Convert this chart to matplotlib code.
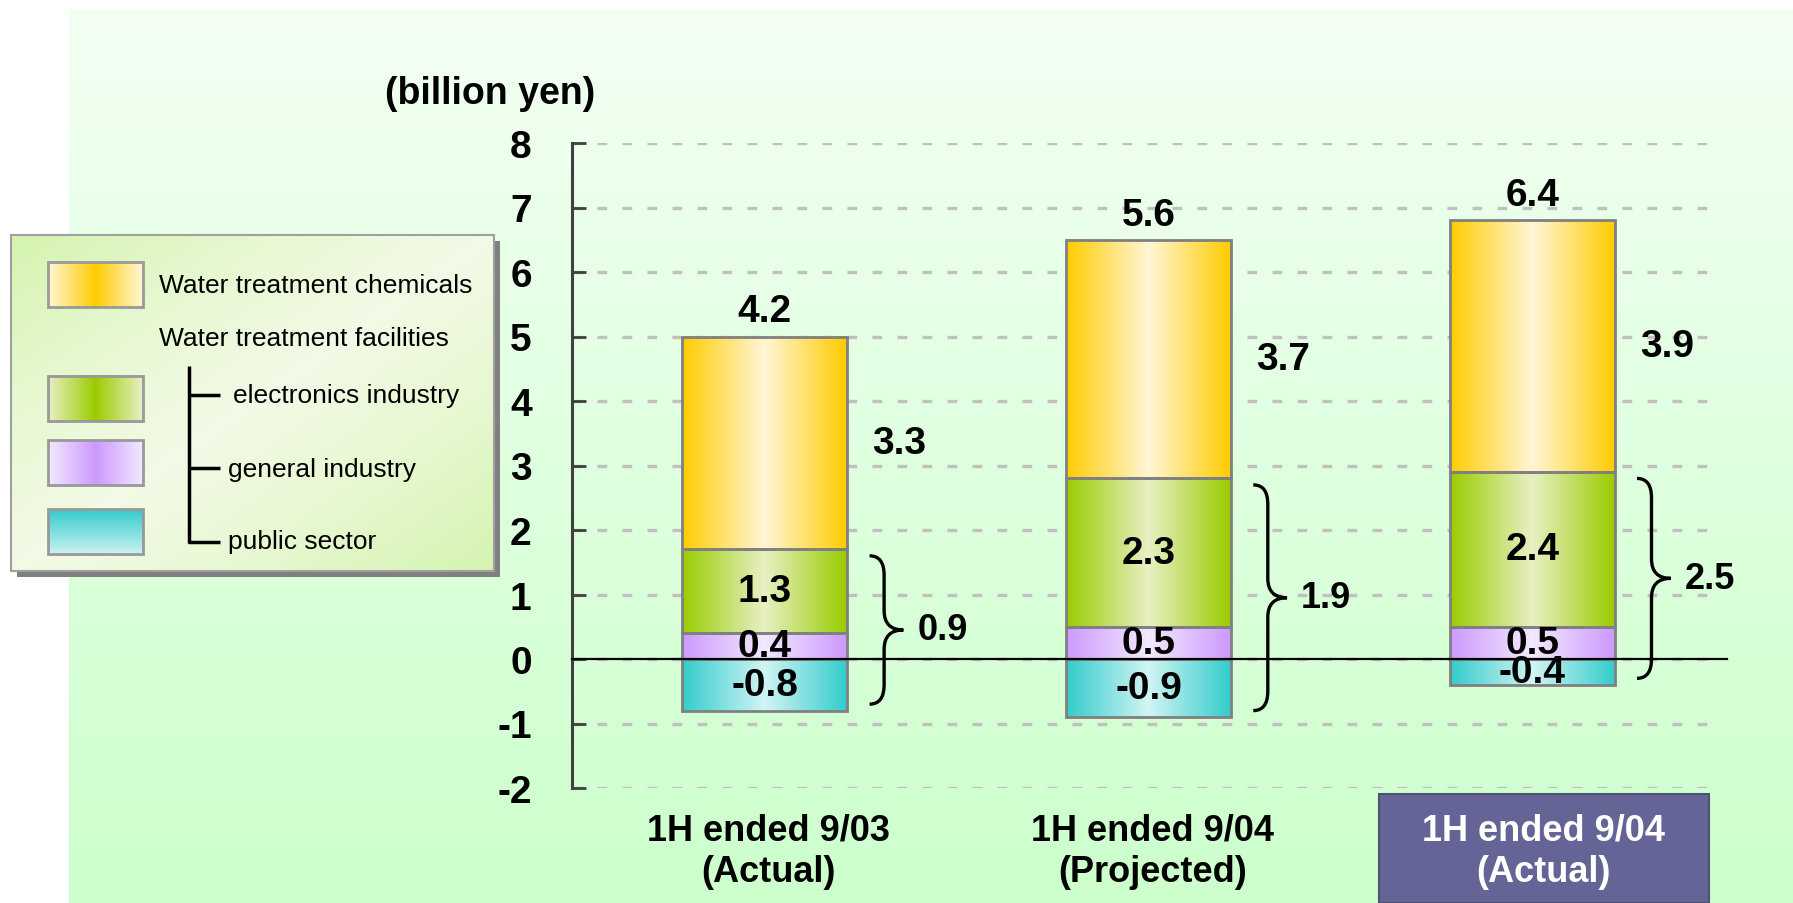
import numpy as np
import matplotlib.pyplot as plt
import matplotlib.transforms as mtransforms
from matplotlib.colors import LinearSegmentedColormap
from matplotlib.patches import Rectangle, PathPatch
from matplotlib.path import Path

plt.rcParams['font.family'] = ['Liberation Sans', 'DejaVu Sans']
plt.rcParams['axes.unicode_minus'] = False
plt.rcParams['lines.scale_dashes'] = False

#%% dados (bilhões de ienes)
periodos = ['1H ended 9/03\n(Actual)', '1H ended 9/04\n(Projected)', '1H ended 9/04\n(Actual)']
public_sector = [-0.8, -0.9, -0.4]
general_industry = [0.4, 0.5, 0.5]
electronics_industry = [1.3, 2.3, 2.4]
chemicals = [3.3, 3.7, 3.9]
totais = [4.2, 5.6, 6.4]
totais_facilities = [0.9, 1.9, 2.5]
yticks = list(range(-2, 9))

legenda_itens = ['Water treatment chemicals', 'Water treatment facilities',
                 'electronics industry', 'general industry', 'public sector']

#%% cores
cor_laranja = ('#ffcc00', '#fff6d6')
cor_verde = ('#99cc00', '#e8f0c4')
cor_roxo = ('#cc99ff', '#f3e8ff')
cor_teal = ('#33cccc', '#d2f4f4')

W, H = 1793, 904
fig = plt.figure(figsize=(W / 100, H / 100), dpi=100)

# eixo de fundo em pixels
bg = fig.add_axes([0, 0, 1, 1])
bg.set_xlim(0, W)
bg.set_ylim(H, 0)
bg.axis('off')

grad_v = np.linspace(0, 1, 256).reshape(-1, 1)
grad_h = np.linspace(0, 1, 256).reshape(1, -1)

bg_cmap = LinearSegmentedColormap.from_list('bg', ['#f3fff3', '#ccffcc'])
bg.imshow(grad_v, cmap=bg_cmap, extent=[69, W, H, 10], aspect='auto', zorder=0)

# caixa da legenda
bg.add_patch(Rectangle((17, 242), 483, 336, facecolor='#808080', edgecolor='none', zorder=1))
xx, yy = np.meshgrid(np.linspace(0, 1, 200), np.linspace(0, 1, 200))
diag = np.abs((xx + yy) / 2 - 0.5) * 2
leg_cmap = LinearSegmentedColormap.from_list('leg', ['#eef8dc', '#dcf5bc', '#c2f08e'])
bg.imshow(diag, cmap=leg_cmap, extent=[11, 494, 572, 236], aspect='auto', zorder=2)
bg.add_patch(Rectangle((11, 236), 483, 336, fill=False, edgecolor=(1, 1, 1, 0.3),
                       lw=0, hatch='/' * 18, zorder=3))
bg.add_patch(Rectangle((11, 236), 483, 336, fill=False, edgecolor='#a0a0a0', lw=1.5, zorder=4))


def cmap_borda(borda, centro):
    return LinearSegmentedColormap.from_list('c', [borda, centro, borda])


def cmap_centro(borda, centro):
    return LinearSegmentedColormap.from_list('c', [centro, borda, centro])


swatches = [(263, cmap_centro(*cor_laranja), grad_h),
            (377, cmap_centro(*cor_verde), grad_h),
            (441, cmap_centro(*cor_roxo), grad_h),
            (510, LinearSegmentedColormap.from_list('t', ['#33cccc', '#ccf2f2']), grad_v)]
for y0, cm, g in swatches:
    bg.imshow(g, cmap=cm, extent=[48, 143, y0 + 45, y0], aspect='auto', zorder=5)
    bg.add_patch(Rectangle((48, y0), 95, 45, fill=False, edgecolor='#999999', lw=2, zorder=6))

pos_texto = [(159, 286), (159, 339), (233, 396), (228, 470), (228, 542)]
for (tx, ty), txt in zip(pos_texto, legenda_itens):
    bg.text(tx, ty, txt, fontsize=19, ha='left', va='center', zorder=7)

# arvore da legenda
bg.plot([189, 189], [367, 544], color='black', lw=2.5, zorder=7, solid_capstyle='butt')
for yb in [396, 469, 543]:
    bg.plot([188, 220], [yb, yb], color='black', lw=2.5, zorder=7, solid_capstyle='butt')

fig.text(385 / W, 1 - 94 / H, '(billion yen)', fontsize=27, fontweight='bold',
         ha='left', va='center')

#%% grafico principal
ax = fig.add_axes([572 / W, 1 - 789 / H, (1721 - 572) / W, (789 - 144) / H], zorder=2)
ax.set_facecolor('none')
x = np.arange(len(periodos))
bw = 0.43

gen = np.array(general_industry)
ele = np.array(electronics_industry)
chem = np.array(chemicals)
pub = np.array(public_sector)

segmentos = [(pub, 0, cor_teal), (gen, 0, cor_roxo), (ele, gen, cor_verde), (chem, gen + ele, cor_laranja)]
for vals, base, cores in segmentos:
    bars = ax.bar(x, vals, bw, bottom=base, facecolor='none', edgecolor='#808080', lw=2, zorder=3)
    cm = cmap_borda(*cores)
    for b in bars:
        x0, y0 = b.get_x(), b.get_y()
        ax.imshow(grad_h, cmap=cm, extent=[x0, x0 + b.get_width(), y0, y0 + b.get_height()],
                  aspect='auto', zorder=2, interpolation='bilinear')

ax.axhline(0, color='black', lw=1.6, xmax=1.005, clip_on=False, zorder=4)

negrito = dict(fontweight='bold', zorder=6)
for i in x:
    topo = gen[i] + ele[i] + chem[i]
    ax.annotate(f'{totais[i]}', (i, topo), xytext=(0, 18), textcoords='offset points',
                ha='center', va='center', fontsize=28, **negrito)
    ax.text(i + bw / 2 + 0.065, gen[i] + ele[i] + chem[i] / 2, f'{chem[i]}',
            ha='left', va='center', fontsize=28, **negrito)
    ax.text(i, gen[i] + ele[i] / 2, f'{ele[i]}', ha='center', va='center', fontsize=28, **negrito)
    ax.text(i, gen[i] / 2, f'{gen[i]}', ha='center', va='center', fontsize=28, **negrito)
    ax.text(i, pub[i] / 2, f'{pub[i]}', ha='center', va='center', fontsize=28, **negrito)

    # chave "}" dos equipamentos
    bx0 = i + bw / 2 + 0.058
    bx1 = bx0 + 0.088
    bxm = bx0 + 0.43 * (bx1 - bx0)
    by0 = pub[i] + 0.1
    by1 = gen[i] + ele[i] - 0.1
    bym = (by0 + by1) / 2
    r = 0.3
    verts = [(bx0, by1), (bxm, by1), (bxm, by1 - r),
             (bxm, bym + r), (bxm, bym), (bx1, bym),
             (bxm, bym), (bxm, bym - r),
             (bxm, by0 + r), (bxm, by0), (bx0, by0)]
    codes = [Path.MOVETO, Path.CURVE3, Path.CURVE3, Path.LINETO, Path.CURVE3, Path.CURVE3,
             Path.CURVE3, Path.CURVE3, Path.LINETO, Path.CURVE3, Path.CURVE3]
    ax.add_patch(PathPatch(Path(verts, codes), fill=False, edgecolor='black', lw=2.4, zorder=5))
    ax.text(bx1 + 0.037, bym, f'{totais_facilities[i]}', ha='left', va='center',
            fontsize=26, **negrito)

# rotulos das categorias
trans = mtransforms.blended_transform_factory(ax.transData, fig.transFigure)
for i, lab in enumerate(periodos):
    destaque = i == len(periodos) - 1
    xc = i + (0.03 if destaque else 0.01)
    if destaque:
        ax.add_patch(Rectangle((xc - 0.43, 0), 0.86, 1 - 795 / H, transform=trans,
                               facecolor='#646496', edgecolor='#505070', lw=1.5,
                               clip_on=False, zorder=5))
    ax.text(xc, 1 - 852 / H, lab, transform=trans, ha='center', va='center', fontsize=26,
            fontweight='bold', linespacing=1.25, color='white' if destaque else 'black',
            zorder=6, clip_on=False)

ax.set_xlim(-0.5026, 2.492)
ax.set_ylim(-2, 8)
ax.set_yticks(yticks)
ax.set_xticks([])
ax.yaxis.grid(True, color='#c0c0c0', lw=2.4, linestyle=(0, (7, 11)), zorder=1)
ax.set_axisbelow(True)
ax.tick_params(axis='y', direction='in', length=10, width=2, color='#404040',
               pad=29, labelsize=28)
for lbl in ax.get_yticklabels():
    lbl.set_fontweight('bold')
for s in ['top', 'right', 'bottom']:
    ax.spines[s].set_visible(False)
ax.spines['left'].set_color('#404040')
ax.spines['left'].set_linewidth(2.2)

fig.savefig('out.png', dpi=100, facecolor='white')
